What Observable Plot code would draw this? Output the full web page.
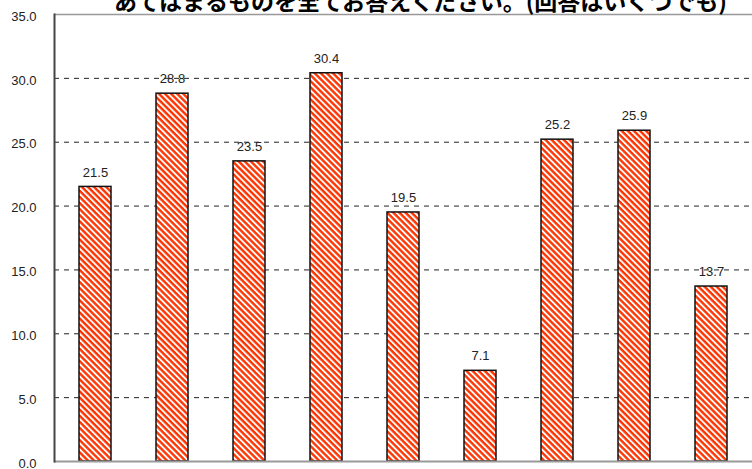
<!DOCTYPE html>
<html><head><meta charset="utf-8">
<script src="https://cdn.jsdelivr.net/npm/d3@7"></script>
<script src="https://cdn.jsdelivr.net/npm/@observablehq/plot@0.6"></script>
<style>body{margin:0;background:#fff;overflow:hidden}</style>
</head><body><div id="chart"></div>
<script>
const title = "あてはまるものを全てお答えください。(回答はいくつでも)";
const categories = ["c1","c2","c3","c4","c5","c6","c7","c8","c9"];
const values = [21.5, 28.8, 23.5, 30.4, 19.5, 7.1, 25.2, 25.9, 13.7];
const yTicks = [0, 5, 10, 15, 20, 25, 30, 35];
const gridTicks = [5, 10, 15, 20, 25, 30];
const data = categories.map((c, i) => ({cat: c, value: values[i]}));

const plot = Plot.plot({
  width: 752, height: 469,
  marginLeft: 54, marginRight: 0, marginTop: 14, marginBottom: 8,
  style: {fontFamily: "'Liberation Sans', Arial, sans-serif", background: "#fff"},
  x: {domain: categories, paddingInner: 0.59, paddingOuter: 0.3, axis: null},
  y: {domain: [0, 35], axis: null},
  marks: [
    Plot.ruleY(gridTicks, {stroke: "#222", strokeDasharray: "5,5", strokeWidth: 1}),
    Plot.ruleY([35], {stroke: "#999", strokeWidth: 1.5}),
    Plot.barY(data, {x: "cat", y: "value", fill: "url(#hatch)", stroke: "#111", strokeWidth: 1.5}),
    Plot.ruleY([0], {stroke: "#999", strokeWidth: 2}),
    Plot.frame({anchor: "left", stroke: "#444", strokeWidth: 2}),
    Plot.axisY({ticks: yTicks, tickSize: 0, tickPadding: 18, tickFormat: d => d.toFixed(1), fontSize: 13, fill: "#222", dy: 2, label: null}),
    Plot.text(data, {x: "cat", y: "value", text: d => d.value.toFixed(1), dy: -14.5, fontSize: 13, fill: "#222"}),
    Plot.text([title], {frameAnchor: "top", dx: 17, dy: -21, fontSize: 23, fontWeight: "bold", fill: "#000", fontFamily: "'Noto Sans CJK JP', sans-serif"})
  ]
});

const svg = d3.select(plot);
const defs = svg.insert("defs", ":first-child");
const s = 4.3;
const pat = defs.append("pattern").attr("id", "hatch").attr("patternUnits", "userSpaceOnUse")
  .attr("width", s).attr("height", s).attr("patternTransform", "rotate(45)");
pat.append("rect").attr("width", s).attr("height", s).attr("fill", "#fff");
pat.append("rect").attr("width", s).attr("height", 2.4).attr("fill", "#ff3300");

document.getElementById("chart").appendChild(plot);
</script>
</body></html>
